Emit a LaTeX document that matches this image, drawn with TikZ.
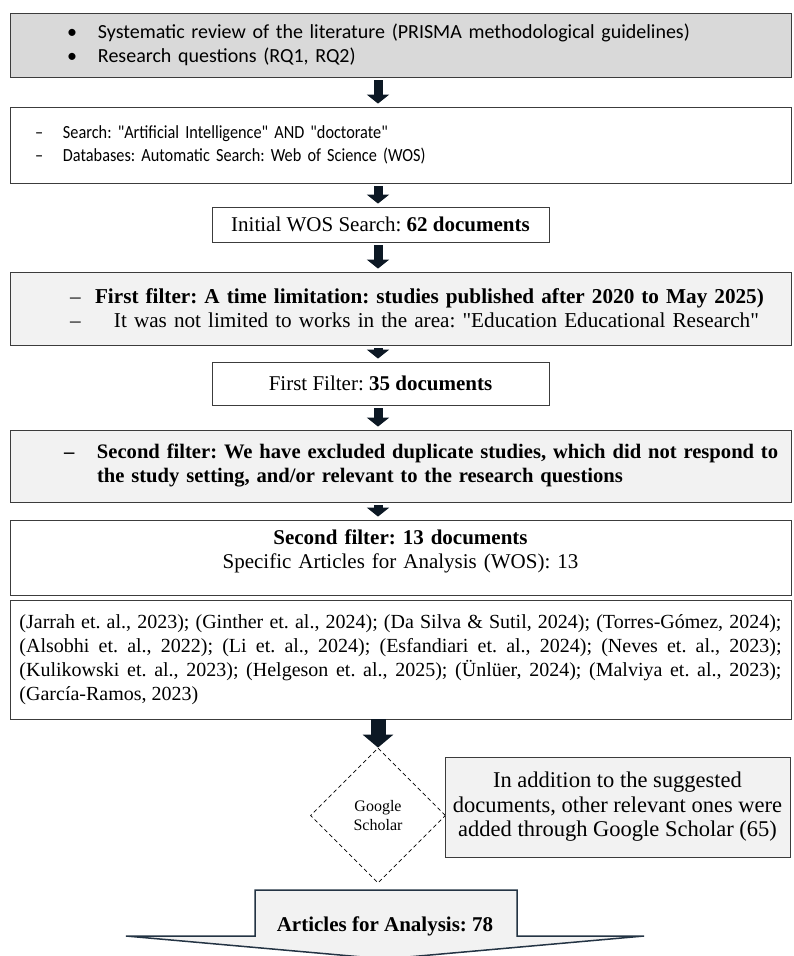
\documentclass[tikz,border=0pt]{standalone}
\usepackage{fontspec}
\setmainfont{Liberation Serif}
\newfontfamily\narrowsans{Carlito}
\newfontfamily\squeezedsans[FakeStretch=0.88]{Carlito}
\usetikzlibrary{arrows.meta,shapes.geometric}
\definecolor{boxgray}{RGB}{217,217,217}
\definecolor{palegray}{RGB}{242,242,242}
\definecolor{edgegray}{RGB}{60,60,60}
\definecolor{arrowink}{RGB}{12,24,36}
\definecolor{slate}{RGB}{36,52,68}
\newcommand*{\sanstext}{\narrowsans\fontsize{20}{24}\selectfont}
\newcommand*{\smallsans}{\squeezedsans\fontsize{18.5}{23}\selectfont}
\newcommand*{\bodytext}{\fontsize{21}{24}\selectfont}
\newcommand{\flowarrow}[2]{%
   % from node, to node; the stem runs on the x of (ax)
   \draw[flowarrow] (#1.south -| ax) -- (#2.north -| ax);
}
\tikzset{
   stepbox/.style   = {draw = edgegray, line width = 0.8pt, inner sep = 0pt},
   widebox/.style   = {stepbox, minimum width = 781pt, text width = 761pt},
   smallbox/.style  = {stepbox, minimum width = 337pt, font = \bodytext},
   flowarrow/.style = {arrowink, line width = 9pt,
                       -{Triangle[width = 22pt, length = 9pt]},
                       shorten <= 3pt, shorten >= 3pt}
}

\begin{document}
\frenchspacing
\begin{tikzpicture}[x=1pt, y=-1pt]
   \useasboundingbox (0,0) rectangle (793,956);
   \clip (0,0) rectangle (793,956);
   \coordinate (ax) at (378,0);

   \node (intro) at (400.5,45) [
      widebox,
      fill           = boxgray,
      minimum height = 64pt,
      align          = left,
      font           = \sanstext
   ]{%
      \mbox{\hspace*{47pt}\makebox[31pt][l]{•}Systematic review of the literature (PRISMA methodological guidelines)}\\
      \mbox{\hspace*{47pt}\makebox[31pt][l]{•}Research questions (RQ1, RQ2)}
   };

   \node (query) at (400.5,145) [
      widebox,
      minimum height = 76pt,
      align          = left,
      font           = \smallsans
   ]{%
      \mbox{\hspace*{15pt}\makebox[28pt][l]{–}Search: "Artificial Intelligence" AND "doctorate"}\\
      \mbox{\hspace*{15pt}\makebox[28pt][l]{–}Databases: Automatic Search: Web of Science (WOS)}
   };

   \node (wosinit) at (380.5,224.5) [
      smallbox,
      minimum height = 35pt
   ]{Initial WOS Search: \textbf{62 documents}};

   \node (filter1) at (400.5,308.5) [
      widebox,
      fill           = palegray,
      minimum height = 73pt,
      align          = left,
      font           = \fontsize{21.2}{24}\selectfont
   ]{%
      \mbox{\hspace*{50pt}\makebox[25pt][l]{–}\textbf{First filter: A time limitation: studies published after 2020 to May 2025)}}\\
      \mbox{\hspace*{50pt}\makebox[44pt][l]{–}It was not limited to works in the area: \textquotedbl Education Educational Research\textquotedbl}
   };

   \node (res1) at (380.5,383.5) [
      smallbox,
      minimum height = 43pt
   ]{First Filter: \textbf{35 documents}};

   \node (filter2) at (400.5,466) [
      widebox,
      fill           = palegray,
      minimum height = 72pt,
      align          = left,
      font           = \fontsize{20.6}{24}\selectfont\bfseries
   ]{%
      \mbox{\hspace*{44pt}\makebox[33pt][l]{–}Second filter: We have excluded duplicate studies, which did not respond to}\\
      \mbox{\hspace*{77pt}the study setting, and/or relevant to the research questions}
   };

   \node (res2) at (400.5,557.5) [
      widebox,
      minimum height = 75pt,
      align          = center,
      font           = \bodytext
   ]{%
      \textbf{Second filter: 13 documents}\\
      Specific Articles for Analysis (WOS): 13\\[-8pt]\mbox{}
   };

   \node (refs) at (400.5,659.5) [
      stepbox,
      minimum width  = 781pt,
      minimum height = 119pt,
      text width     = 762pt,
      align          = justify,
      font           = \fontsize{20}{24}\selectfont
   ]{%
      \hyphenpenalty=10000\tolerance=9999
      (Jarrah et. al., 2023); (Ginther et. al., 2024); (Da Silva \& Sutil, 2024); (Torres-Gómez, 2024);\linebreak
      (Alsobhi et. al., 2022); (Li et. al., 2024); (Esfandiari et. al., 2024); (Neves et. al., 2023);\linebreak
      (Kulikowski et. al., 2023); (Helgeson et. al., 2025); (Ünlüer, 2024); (Malviya et. al., 2023);\linebreak
      (García-Ramos, 2023)
   };

   \node (gscholar) at (378,815.5) [
      shape          = diamond,
      aspect         = 1,
      draw,
      dash pattern   = on 4pt off 3pt,
      line width     = 0.8pt,
      minimum width  = 135pt,
      minimum height = 135pt,
      inner sep      = 0pt,
      align          = center,
      font           = \fontsize{16}{19}\selectfont
   ]{Google\\Scholar};

   \node (gsnote) at (617.5,807) [
      draw           = edgegray,
      line width     = 1pt,
      fill           = palegray,
      minimum width  = 345pt,
      minimum height = 100pt,
      inner sep      = 0pt,
      align          = center,
      font           = \fontsize{22.5}{24.5}\selectfont
   ]{%
      In addition to the suggested\\
      documents, other relevant ones were\\
      added through Google Scholar (65)
   };

   \flowarrow{intro}{query}
   \flowarrow{query}{wosinit}
   \flowarrow{wosinit}{filter1}
   \flowarrow{filter1}{res1}
   \flowarrow{res1}{filter2}
   \flowarrow{filter2}{res2}
   \draw[
      arrowink,
      line width = 15pt,
      -{Triangle[width = 30pt, length = 13pt]}
   ] (refs.south -| ax) -- (gscholar.north);

   % closing block arrow
   \filldraw[fill = palegray, draw = slate, line width = 1.5pt, line join = miter]
      (255,890) -- (517,890) -- (517,936) -- (644,936) -- (385,959)
      -- (126,936) -- (255,936) -- cycle;
   \node (final) at (385,926) [font = \bodytext\bfseries]{Articles for Analysis: 78};
\end{tikzpicture}
\end{document}
